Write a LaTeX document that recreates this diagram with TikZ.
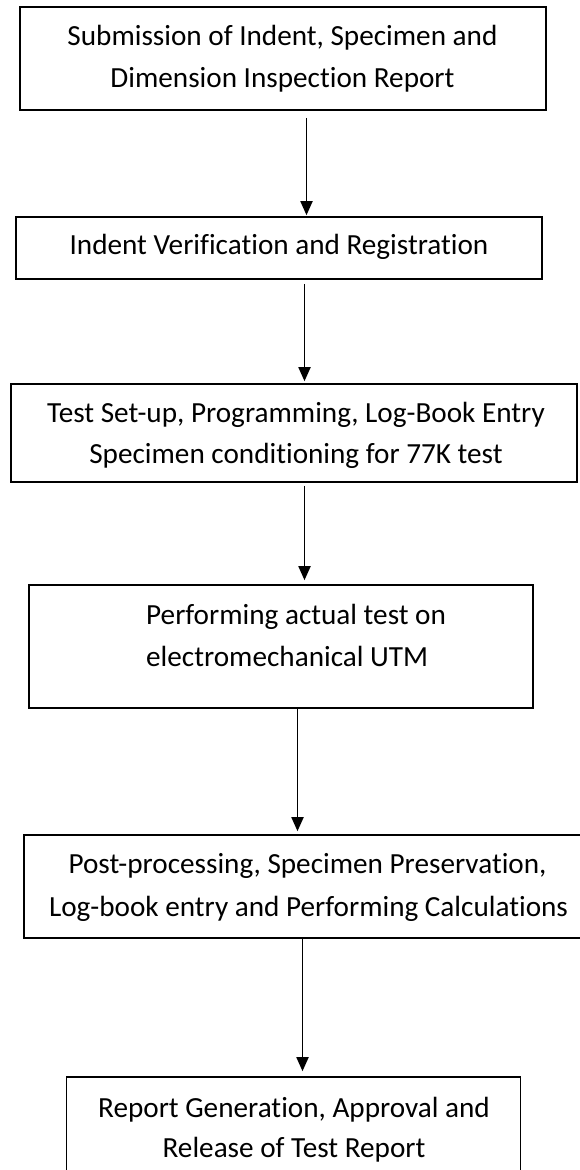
\documentclass[tikz,border=0pt]{standalone}
\usepackage{fontspec}
\setmainfont{Carlito}[Ligatures={NoCommon,NoRequired,NoContextual}]
\usetikzlibrary{arrows.meta}
% keeps two letters apart (no ligature)
\newcommand{\nlg}{\kern0pt}
\begin{document}
\begin{tikzpicture}[x=1pt,y=-1pt,
  stagebox/.style={draw, line width=1.6pt, inner sep=0pt},
  txt/.style={font=\fontsize{29.2}{42}\selectfont, inner sep=0pt, anchor=base},
  flow/.style={-{Triangle[length=14pt,width=12pt]}, line width=1.8pt}]
\useasboundingbox (0,0) rectangle (579,1170);

% process stages
\node[stagebox, minimum width=526pt, minimum height=103pt] (b1) at (283,58.5) {};
\node[stagebox, minimum width=526pt, minimum height=62pt]  (b2) at (279,248) {};
\node[stagebox, minimum width=566pt, minimum height=98pt]  (b3) at (294,433) {};
\node[stagebox, minimum width=504pt, minimum height=123pt] (b4) at (281,646.5) {};
\node[stagebox, minimum width=569pt, minimum height=103pt] (b5) at (308.5,886.5) {};
\node[stagebox, minimum width=454pt, minimum height=108pt] (b6) at (293.5,1131) {};

% stage texts, one node per line
\node[txt] (t1a) at (282.5,45)  {Submission of Indent, Specimen and};
\node[txt] (t1b) at (282.5,87)  {Dimension Inspect\nlg ion Report};
\node[txt] (t2)  at (279,254)   {Indent Verif\nlg icat\nlg ion and Registrat\nlg ion};
\node[txt] (t3a) at (296,422)   {Test Set-up, Programming, Log-Book Entry};
\node[txt] (t3b) at (296,463)   {Specimen condit\nlg ioning for 77K test};
\node[txt, anchor=base west] (t4a) at (146,624) {Performing actual test on};
\node[txt, anchor=base west] (t4b) at (146,666) {electromechanical UTM};
\node[txt] (t5a) at (307.5,873) {Post-processing, Specimen Preservat\nlg ion,};
\node[txt] (t5b) at (308.5,916) {Log-book entry and Performing Calculat\nlg ions};
\node[txt] (t6a) at (294,1117)  {Report Generat\nlg ion, Approval and};
\node[txt] (t6b) at (294,1157)  {Release of Test Report};

% arrow columns
\coordinate (a1) at (306.5,0);
\coordinate (a2) at (304.5,0);
\coordinate (a3) at (304.5,0);
\coordinate (a4) at (297.5,0);
\coordinate (a5) at (302.5,0);

\draw[flow, shorten <=7pt, shorten >=1pt] (b1.south -| a1) -- (b2.north -| a1);
\draw[flow, shorten <=4pt, shorten >=2pt] (b2.south -| a2) -- (b3.north -| a2);
\draw[flow, shorten <=3pt, shorten >=4pt] (b3.south -| a3) -- (b4.north -| a3);
\draw[flow, shorten >=3pt] (b4.south -| a4) -- (b5.north -| a4);
\draw[flow, shorten >=5pt] (b5.south -| a5) -- (b6.north -| a5);
\end{tikzpicture}
\end{document}
